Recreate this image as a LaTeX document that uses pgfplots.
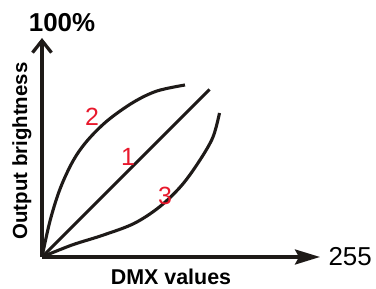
\documentclass[border=0pt]{standalone}
\usepackage{fontspec}
\setmainfont{Liberation Sans}
\usepackage{pgfplots}
\pgfplotsset{compat=1.18}
\usetikzlibrary{arrows.meta}
\definecolor{lblred}{RGB}{232,24,44}
\definecolor{ink}{RGB}{30,26,24}
\begin{document}
\begin{tikzpicture}
\begin{axis}[
  x=1bp, y=1bp,
  xmin=0, xmax=278, ymin=0, ymax=219,
  axis lines=left,
  ticks=none,
  enlargelimits=false,
  clip=false,
  axis line style={line width=3.3bp, ink},
  x axis line style={-{Stealth[length=25bp,width=15bp,inset=4bp]}},
  y axis line style={-{Straight Barb[length=12bp,width=19bp,line width=3.3bp]}},
]
\path (axis cs:-42,-28) rectangle (axis cs:334,257);
\addplot[line width=3.1bp, ink] coordinates {(0,0) (167.5,167.5)};
\addplot[line width=3.1bp, ink, smooth, tension=0.55] coordinates {
 (0,0) (8,36) (18,68) (31,96) (45,116) (65,136) (91,154.5) (115,166) (143,172)};
\addplot[line width=3.1bp, ink, smooth, tension=0.55] coordinates {
 (0,0) (30,12) (60,21.5) (92,33.5) (118,50.5) (140,72) (158,97) (171,120) (177.5,144)};
\node[font=\fontsize{26}{26}\selectfont\bfseries] at (axis cs:20,234) {100\%};
\node[font=\fontsize{26}{26}\selectfont, anchor=west] at (axis cs:283,0) {255};
\node[font=\fontsize{21.5}{21.5}\selectfont\bfseries] at (axis cs:129,-20) {DMX values};
\node[font=\fontsize{20.5}{20.5}\selectfont\bfseries, rotate=90] at (axis cs:-20,106) {Output brightness};
\node[font=\fontsize{25}{25}\selectfont, text=lblred] at (axis cs:50,140) {2};
\node[font=\fontsize{25}{25}\selectfont, text=lblred] at (axis cs:86,100) {1};
\node[font=\fontsize{25}{25}\selectfont, text=lblred] at (axis cs:123,61) {3};
\end{axis}
\end{tikzpicture}
\end{document}
